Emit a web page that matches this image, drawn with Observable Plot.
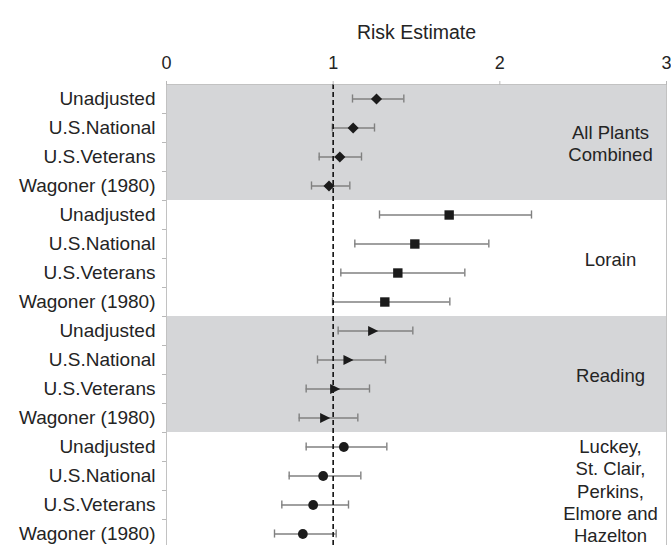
<!DOCTYPE html>
<html><head><meta charset="utf-8">
<script src="https://cdn.jsdelivr.net/npm/d3@7"></script>
<script src="https://cdn.jsdelivr.net/npm/@observablehq/plot@0.6"></script>
<style>html,body{margin:0;padding:0;background:#fff;overflow:hidden;}</style>
</head><body><div id="chart"></div>
<script>
// ---- data ----
const groupLabels = ["All Plants\nCombined", "Lorain", "Reading", "Luckey,\nSt. Clair,\nPerkins,\nElmore and\nHazelton"];
const methodLabels = ["Unadjusted", "U.S.National", "U.S.Veterans", "Wagoner (1980)"];
const xTicks = [0, 1, 2, 3];
const nullValue = 1;
// [estimate, lower CI, upper CI] for each method
const allPlants = [[1.26, 1.116, 1.424], [1.12, 0.995, 1.248], [1.04, 0.916, 1.17], [0.975, 0.87, 1.10]];
const lorain    = [[1.696, 1.278, 2.19], [1.49, 1.13, 1.934], [1.388, 1.046, 1.79], [1.31, 0.996, 1.70]];
const reading   = [[1.236, 1.03, 1.478], [1.088, 0.906, 1.314], [1.008, 0.838, 1.218], [0.948, 0.796, 1.148]];
const luckey    = [[1.064, 0.838, 1.322], [0.94, 0.736, 1.166], [0.88, 0.692, 1.092], [0.818, 0.648, 1.018]];
const groupData = [allPlants, lorain, reading, luckey];
const groupShaded = [true, false, true, false];

// ---- build table ----
const nM = methodLabels.length;
const rows = groupData.flatMap((g, gi) => g.map((v, mi) => ({
  group: gi, row: gi * nM + mi, est: v[0], lo: v[1], hi: v[2]
})));
const nRows = rows.length;
const bands = groupLabels.map((label, gi) => ({
  gi, label, shaded: groupShaded[gi], y1: gi * nM - 0.5, y2: gi * nM + nM - 0.5, mid: gi * nM + (nM - 1) / 2
}));

const triangleRight = {
  draw(ctx, size) {
    const r = Math.sqrt(size / Math.PI);
    ctx.moveTo(-r * 0.95, -r * 1.1);
    ctx.lineTo(r * 1.25, 0);
    ctx.lineTo(-r * 0.95, r * 1.1);
    ctx.closePath();
  }
};
const symbols = ["diamond2", "square", triangleRight, "circle"];
const radii = [5.0, 5.3, 4.6, 4.9];

const font = "'Liberation Sans', Arial, Helvetica, sans-serif";
const ink = "#242424";
const whisk = "#808080";

const marks = [
  Plot.rect(bands.filter(d => d.shaded), {x1: () => xTicks[0], x2: () => xTicks[xTicks.length - 1], y1: "y1", y2: "y2", fill: "#d5d6d8"}),
  Plot.frame({stroke: "#c2c2c2"}),
  Plot.ruleY(rows, {y: "row", x1: "lo", x2: "hi", stroke: whisk, strokeWidth: 1.4}),
  Plot.ruleX(rows, {x: "lo", y1: d => d.row - 0.14, y2: d => d.row + 0.14, stroke: whisk, strokeWidth: 1.4}),
  Plot.ruleX(rows, {x: "hi", y1: d => d.row - 0.14, y2: d => d.row + 0.14, stroke: whisk, strokeWidth: 1.4}),
  Plot.ruleX([nullValue], {stroke: "#111", strokeWidth: 1.6, strokeDasharray: "5,3"}),
  ...symbols.map((s, gi) => Plot.dot(rows.filter(d => d.group === gi), {x: "est", y: "row", symbol: s, r: radii[gi], fill: "#1b1b1b", stroke: "none"})),
  Plot.text(bands, {x: () => xTicks[xTicks.length - 1], y: "mid", text: "label", dx: -56, textAnchor: "middle", lineAnchor: "middle", lineHeight: 1.2, fontSize: 18.5, fill: ink}),
  Plot.text(["Risk Estimate"], {frameAnchor: "top", dy: -52, textAnchor: "middle", lineAnchor: "middle", fontSize: 19.5, fill: ink}),
  Plot.axisX({anchor: "top", ticks: xTicks, tickSize: 4, tickFormat: () => "", stroke: "#b8b8b8", label: null}),
  Plot.axisX({anchor: "top", ticks: xTicks, tickSize: 0, tickPadding: 16, tickFormat: d => String(d), fontSize: 18, fill: ink, label: null}),
  Plot.axisY({ticks: d3.range(nRows), tickSize: 0, tickPadding: 11, tickFormat: i => methodLabels[i % nM], fontSize: 19, fill: ink, label: null}),
  Plot.axisY({ticks: d3.range(0.5, nRows - 1, 1), tickSize: 4, tickFormat: () => "", stroke: "#b8b8b8", label: null})
];

const chart = Plot.plot({
  width: 671,
  height: 548,
  marginLeft: 166,
  marginRight: 5,
  marginTop: 84,
  marginBottom: 0,
  style: {fontFamily: font, background: "#fff", overflow: "visible"},
  x: {domain: [xTicks[0], xTicks[xTicks.length - 1]]},
  y: {domain: [-0.5, nRows - 0.5], reverse: true},
  marks
});
document.getElementById("chart").appendChild(chart);
</script>
</body></html>
